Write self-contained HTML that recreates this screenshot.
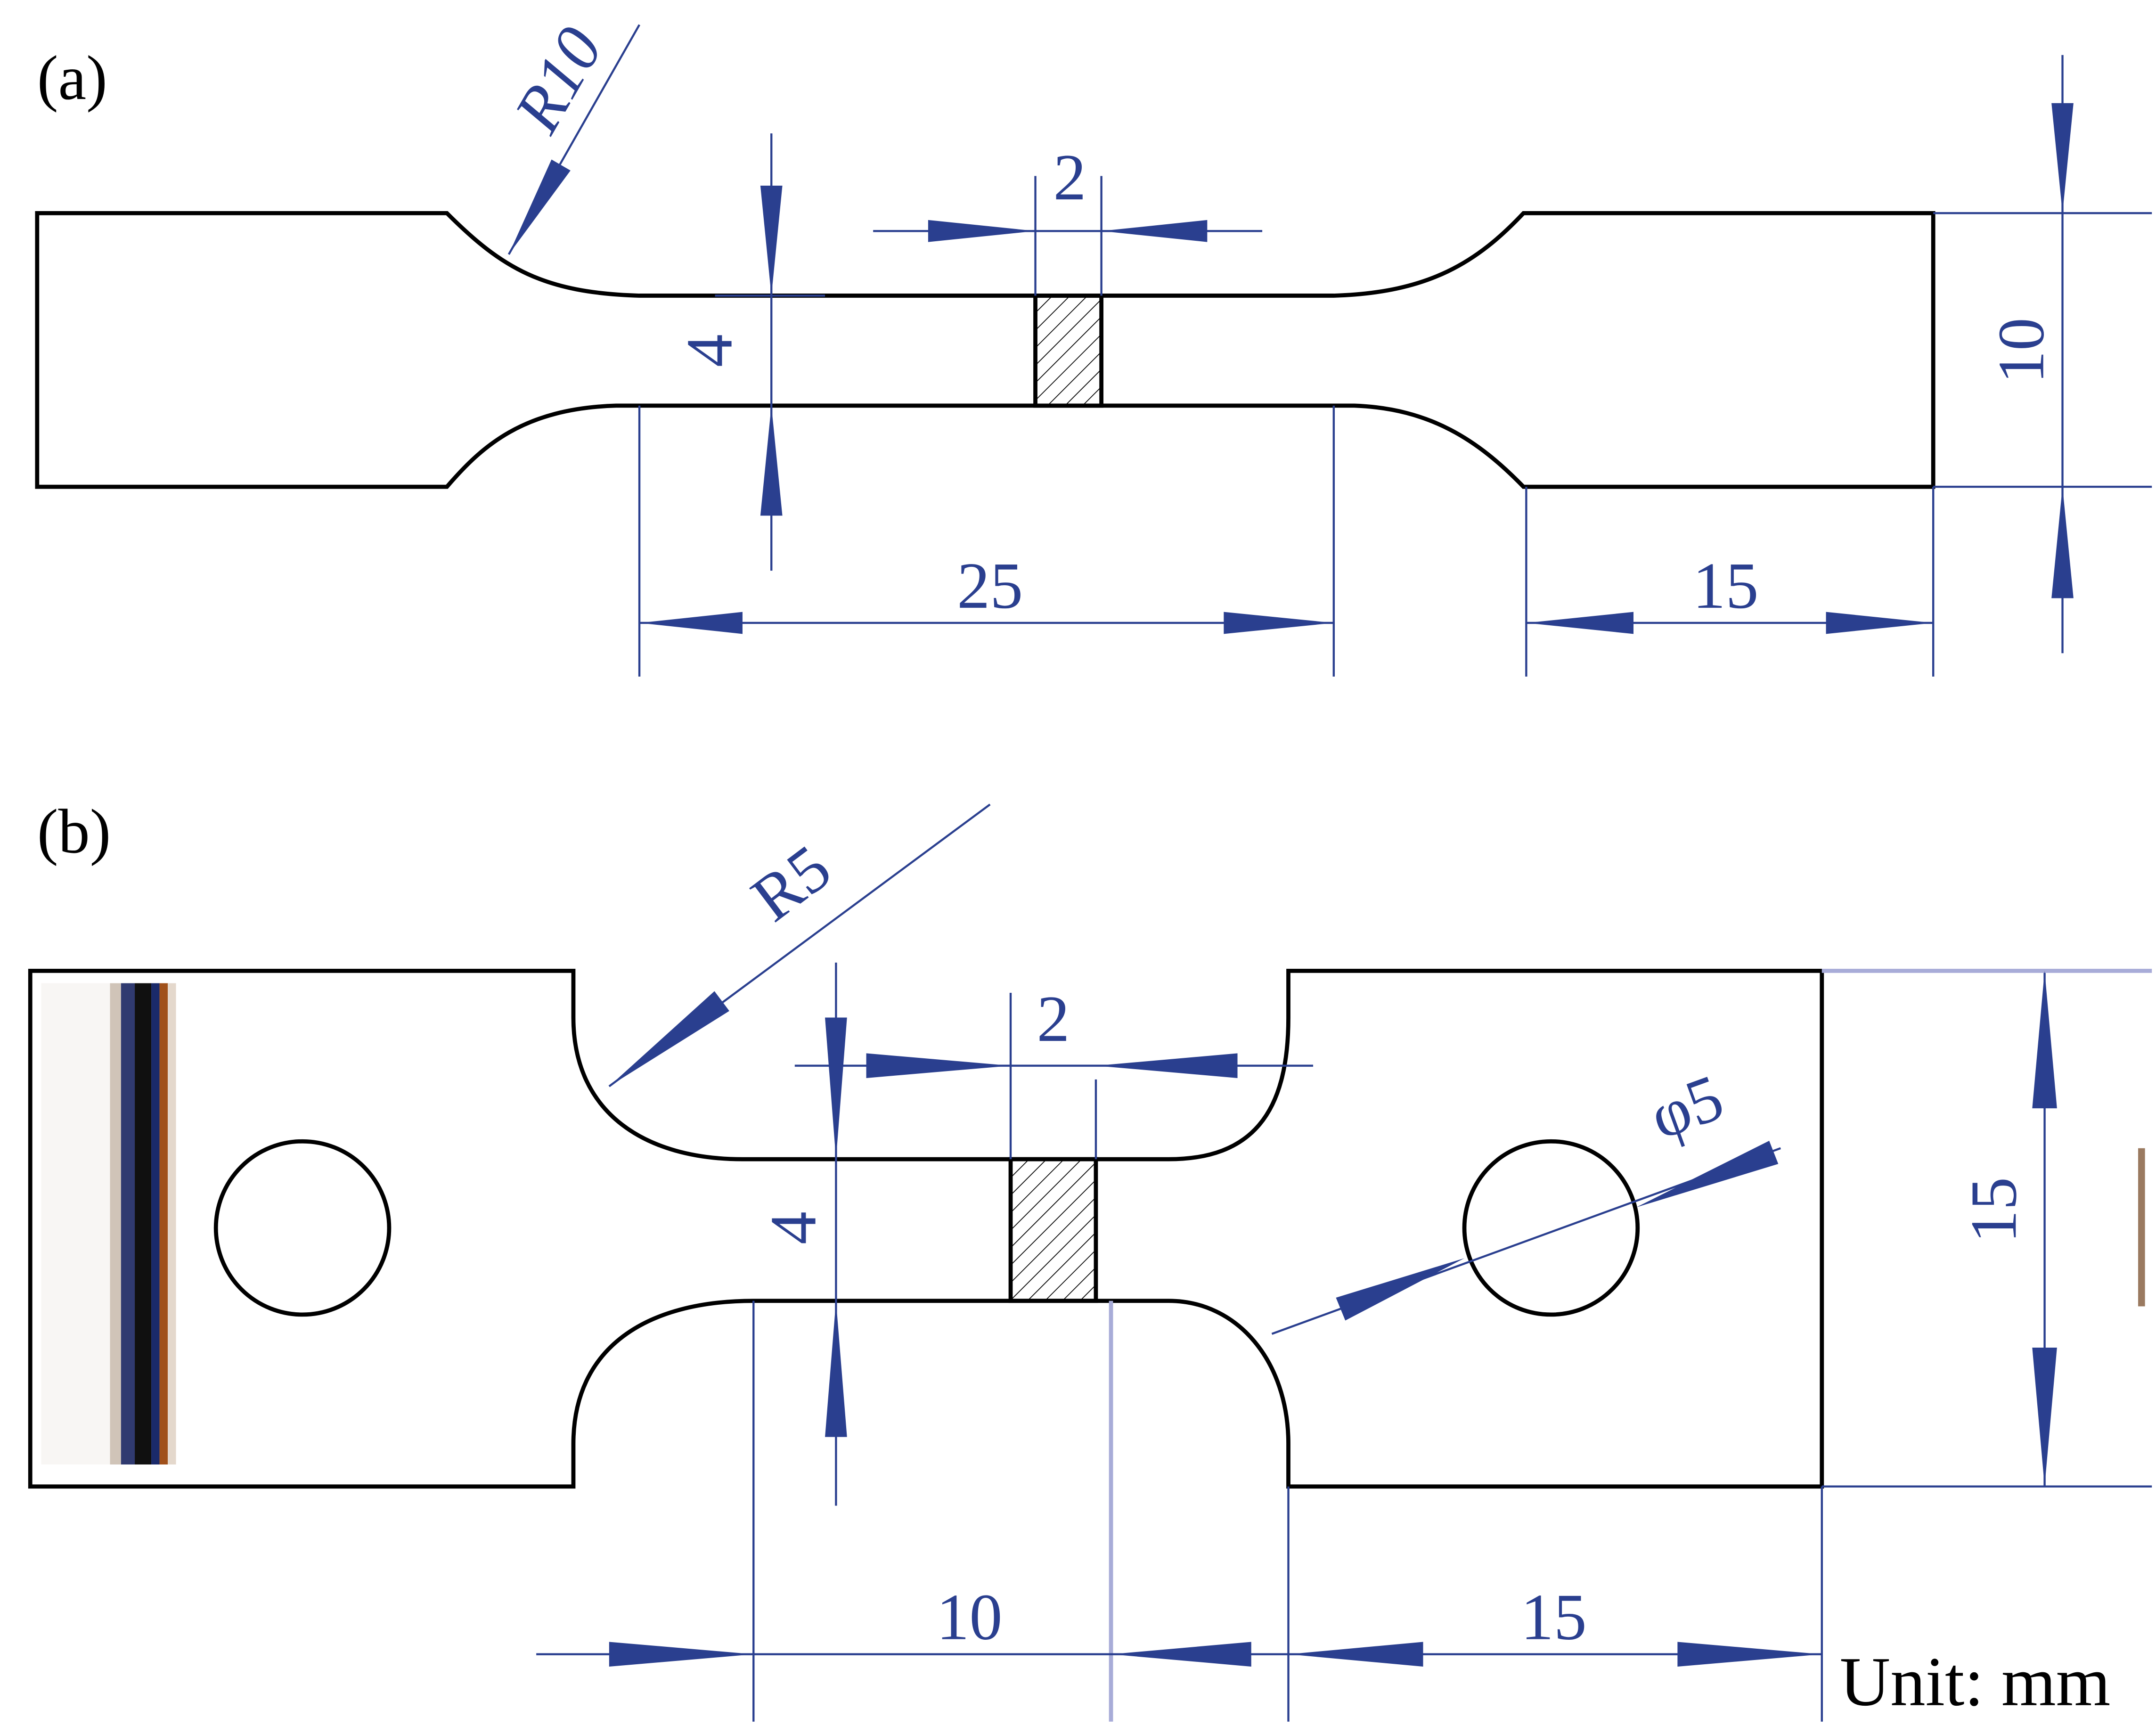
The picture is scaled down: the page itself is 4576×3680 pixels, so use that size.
<!DOCTYPE html>
<html><head><meta charset="utf-8"><style>html,body{margin:0;padding:0;background:#fff}svg{display:block}</style></head>
<body>
<svg width="4576" height="3680" viewBox="0 0 1568 1261" xmlns="http://www.w3.org/2000/svg" font-family="Liberation Serif, serif">
<defs>
<pattern id="h" width="9" height="9" patternUnits="userSpaceOnUse" patternTransform="rotate(-45)">
<line x1="0" y1="0" x2="0" y2="9" stroke="#000" stroke-width="1.2" transform="rotate(90 4.5 4.5)"/>
</pattern>
</defs>
<rect width="1568" height="1261" fill="#fff"/>
<g fill="none" stroke="#000" stroke-width="3">
<path d="M27,155 L325,155 C365,195 395,213 465,215 L970,215 C1040,213 1075,190 1108,155 L1406,155 L1406,354 L1108,354 C1075,320 1040,297 985,295 L448,295 C380,297 350,325 325,354 L27,354 Z"/>
<rect x="753" y="215" width="48" height="80" fill="url(#h)"/>
</g>
<g stroke="#2a3f8f" stroke-width="1.5" fill="none">
<line x1="753" y1="128" x2="753" y2="215"/><line x1="801" y1="128" x2="801" y2="215"/>
<line x1="635" y1="168" x2="918" y2="168"/>
<line x1="561" y1="97" x2="561" y2="415"/>
<line x1="520" y1="215" x2="600" y2="215"/>
<line x1="465" y1="295" x2="465" y2="492"/><line x1="970" y1="295" x2="970" y2="492"/>
<line x1="465" y1="453" x2="970" y2="453"/>
<line x1="1110" y1="354" x2="1110" y2="492"/><line x1="1406" y1="354" x2="1406" y2="492"/>
<line x1="1110" y1="453" x2="1406" y2="453"/>
<line x1="1500" y1="40" x2="1500" y2="475"/>
<line x1="1406" y1="155" x2="1565" y2="155"/><line x1="1406" y1="354" x2="1565" y2="354"/>
<line x1="465" y1="18" x2="370" y2="185"/>
</g>
<g fill="#2a3f8f">
<polygon points="753,168 675,160 675,176"/><polygon points="801,168 878,160 878,176"/>
<polygon points="561,215 553,135 569,135"/><polygon points="561,295 553,375 569,375"/>
<polygon points="465,453 540,445 540,461"/><polygon points="970,453 890,445 890,461"/>
<polygon points="1110,453 1188,445 1188,461"/><polygon points="1406,453 1328,445 1328,461"/>
<polygon points="1500,155 1492,75 1508,75"/><polygon points="1500,354 1492,435 1508,435"/>
<polygon points="370,185 414.9,124 401.1,116"/>
</g>
<g fill="#2a3f8f" font-size="48">
<text x="778" y="145" text-anchor="middle">2</text>
<text x="720" y="442" text-anchor="middle">25</text>
<text x="1255" y="442" text-anchor="middle">15</text>
<text transform="translate(532,255) rotate(-90)" text-anchor="middle">4</text>
<text transform="translate(1486,255) rotate(-90)" text-anchor="middle">10</text>
<text transform="translate(420,66) rotate(-60)" text-anchor="middle" font-style="italic">R10</text>
</g>
<text x="27" y="72" font-size="46" fill="#000">(a)</text>

<g fill="none" stroke="#000" stroke-width="3">
<path d="M22,706 L417,706 L417,740 C417,810 470,843 540,843 L850,843 C910,843 937,810 937,740 L937,706 L1325,706 L1325,1081 L937,1081 L937,1050 C937,990 900,946 850,946 L548,946 C470,946 417,980 417,1050 L417,1081 L22,1081 Z"/>
<rect x="735" y="843" width="62" height="103" fill="url(#h)"/>
<circle cx="220" cy="893" r="63"/><circle cx="1128" cy="893" r="63"/>
</g>
<g>
<rect x="30" y="715" width="50" height="350" fill="#f8f6f4"/>
<rect x="80" y="715" width="8" height="350" fill="#d0c4b8"/>
<rect x="88" y="715" width="10" height="350" fill="#303a70"/>
<rect x="98" y="715" width="12" height="350" fill="#101010"/>
<rect x="110" y="715" width="6" height="350" fill="#1a2a6a"/>
<rect x="116" y="715" width="6" height="350" fill="#a0501a"/>
<rect x="122" y="715" width="6" height="350" fill="#e4d8cc"/>
<rect x="1555" y="835" width="5" height="115" fill="#9a7a60"/>
</g>
<g stroke="#2a3f8f" stroke-width="1.5" fill="none">
<line x1="735" y1="722" x2="735" y2="843"/><line x1="797" y1="785" x2="797" y2="843"/>
<line x1="578" y1="775" x2="955" y2="775"/>
<line x1="608" y1="700" x2="608" y2="1095"/>
<line x1="548" y1="946" x2="548" y2="1252"/>
<line x1="808" y1="946" x2="808" y2="1252" stroke="#a8acd8" stroke-width="3"/>
<line x1="937" y1="1081" x2="937" y2="1252"/><line x1="1325" y1="1081" x2="1325" y2="1252"/>
<line x1="390" y1="1203" x2="1325" y2="1203"/>
<line x1="1487" y1="706" x2="1487" y2="1081"/>
<line x1="1325" y1="706" x2="1565" y2="706" stroke="#a8acd8" stroke-width="3"/><line x1="1325" y1="1081" x2="1565" y2="1081"/>
<line x1="720" y1="585" x2="443" y2="790"/>
<line x1="925" y1="970" x2="1295" y2="835"/>
</g>
<g fill="#2a3f8f">
<polygon points="735,775 630,766 630,784"/><polygon points="797,775 900,766 900,784"/>
<polygon points="608,843 600,740 616,740"/><polygon points="608,946 600,1045 616,1045"/>
<polygon points="548,1203 443,1194 443,1212"/><polygon points="808,1203 910,1194 910,1212"/>
<polygon points="937,1203 1035,1194 1035,1212"/><polygon points="1325,1203 1220,1194 1220,1212"/>
<polygon points="1487,706 1478,806 1496,806"/><polygon points="1487,1081 1478,980 1496,980"/>
<polygon points="443,790 530.4,735.2 519.6,720.8"/>
<polygon points="1065,915 978.4,960.3 971.6,943.7"/>
<polygon points="1190,878 1293.3,846.4 1286.7,829.6"/>
</g>
<g fill="#2a3f8f" font-size="48">
<text x="766" y="757" text-anchor="middle">2</text>
<text x="705" y="1192" text-anchor="middle">10</text>
<text x="1130" y="1192" text-anchor="middle">15</text>
<text transform="translate(593,893) rotate(-90)" text-anchor="middle">4</text>
<text transform="translate(1466,880) rotate(-90)" text-anchor="middle">15</text>
<text transform="translate(585,655) rotate(-37)" text-anchor="middle">R5</text>
<text transform="translate(1232,820) rotate(-20)" text-anchor="middle">φ5</text>
</g>
<text x="27" y="620" font-size="46" fill="#000">(b)</text>
<text x="1338" y="1240" font-size="51" fill="#000">Unit: mm</text>
</svg>
</body></html>
